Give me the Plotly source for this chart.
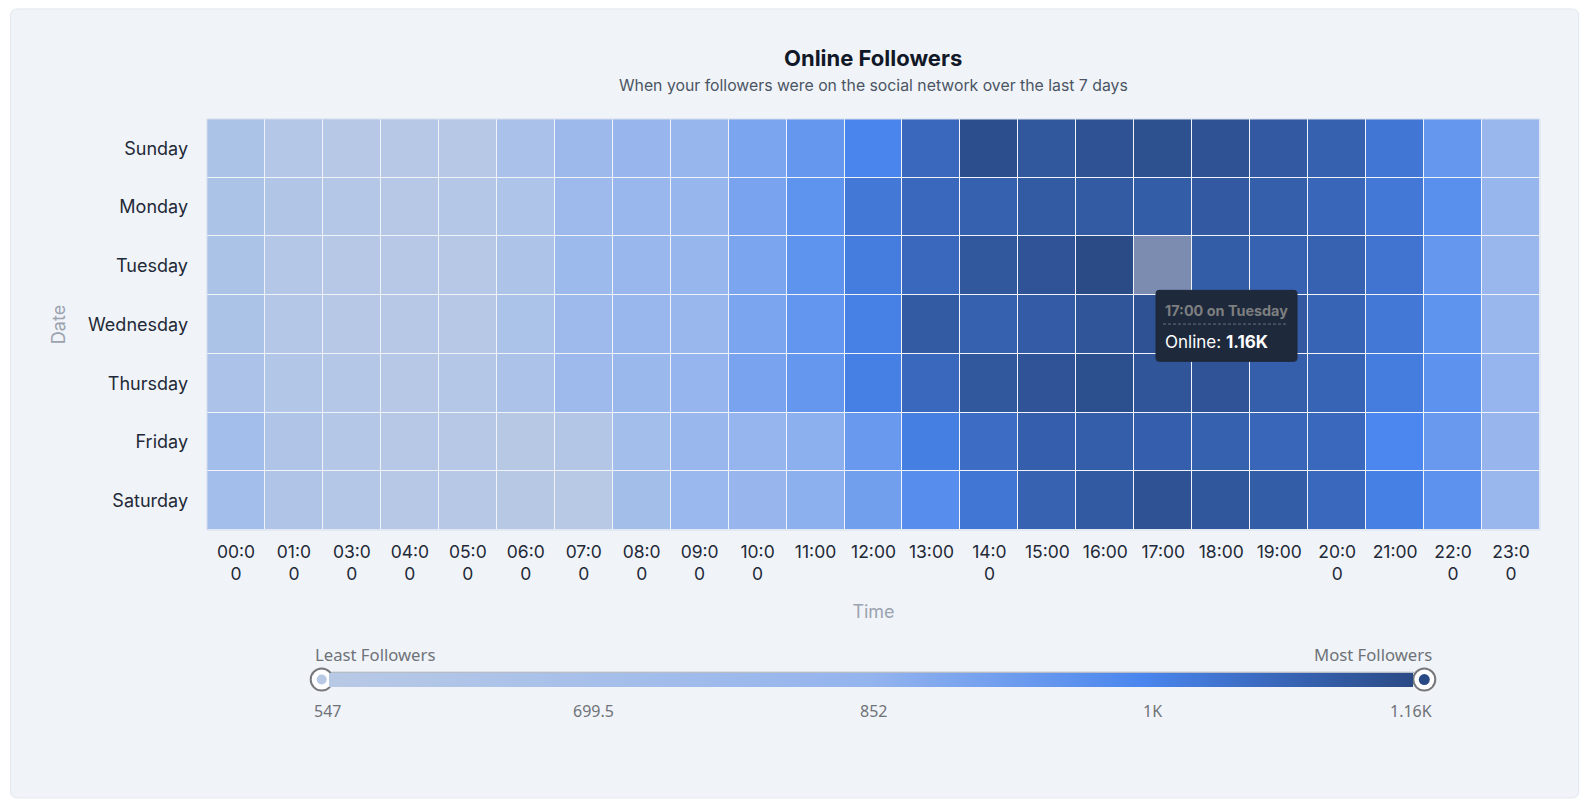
import plotly.graph_objects as go

# values, one list per day
DAYS = ['Sunday', 'Monday', 'Tuesday', 'Wednesday', 'Thursday', 'Friday', 'Saturday']
HOURS = ['00:00', '01:00', '03:00', '04:00', '05:00', '06:00', '07:00', '08:00', '09:00', '10:00', '11:00', '12:00',
         '13:00', '14:00', '15:00', '16:00', '17:00', '18:00', '19:00', '20:00', '21:00', '22:00', '23:00']
HOUR_LABELS = ['00:0<br>0', '01:0<br>0', '03:0<br>0', '04:0<br>0', '05:0<br>0', '06:0<br>0', '07:0<br>0', '08:0<br>0',
               '09:0<br>0', '10:0<br>0', '11:00', '12:00', '13:00', '14:0<br>0', '15:00', '16:00', '17:00', '18:00',
               '19:00', '20:0<br>0', '21:00', '22:0<br>0', '23:0<br>0']

SUNDAY = [645, 570, 565, 560, 565, 665, 780, 820, 830, 905, 950, 1010, 1080, 1150, 1125, 1140, 1145, 1140, 1120, 1100, 1045, 950, 815]
MONDAY = [645, 610, 575, 565, 570, 630, 770, 805, 825, 910, 965, 1040, 1080, 1100, 1115, 1115, 1110, 1120, 1105, 1085, 1040, 975, 825]
TUESDAY = [645, 575, 565, 560, 565, 640, 775, 805, 830, 905, 965, 1030, 1080, 1125, 1135, 1157, 1160, 1110, 1095, 1095, 1050, 950, 815]
WEDNESDAY = [645, 580, 565, 565, 565, 655, 770, 805, 815, 905, 955, 1020, 1115, 1100, 1112, 1132, 1138, 1130, 1120, 1090, 1040, 965, 815]
THURSDAY = [650, 600, 570, 565, 570, 650, 770, 795, 835, 910, 950, 1022, 1080, 1125, 1135, 1148, 1132, 1135, 1105, 1090, 1030, 968, 840]
FRIDAY = [720, 620, 580, 565, 565, 555, 590, 720, 810, 840, 870, 945, 1025, 1070, 1103, 1108, 1103, 1100, 1085, 1080, 1004, 945, 820]
SATURDAY = [720, 620, 570, 565, 560, 555, 547, 715, 800, 820, 870, 925, 980, 1045, 1095, 1118, 1140, 1128, 1110, 1080, 1022, 968, 815]

Z_MIN = 547
Z_MAX = 1160
SLIDER_LABELS = ['547', '699.5', '852', '1K', '1.16K']

COLORSCALE = [[0, '#b8c9e5'], [0.25, '#a6bfea'], [0.5, '#94b4ee'], [0.75, '#4a86ee'], [0.87, '#3a68bc'], [1, '#2a4a85']]

WIDTH = 1584
HEIGHT = 805
PLOT_LEFT = 207
PLOT_RIGHT = 1540
PLOT_TOP = 118.6
PLOT_BOTTOM = 529.7


def px(x):
    return (x - PLOT_LEFT) / (PLOT_RIGHT - PLOT_LEFT)


def py(y):
    return 1 - (y - PLOT_TOP) / (PLOT_BOTTOM - PLOT_TOP)


def rounded_rect(x0, y0, x1, y1, r, fill, line):
    """Rounded box given in page pixels, turned into a paper path."""
    path = (f'M {px(x0 + r)} {py(y0)} L {px(x1 - r)} {py(y0)} Q {px(x1)} {py(y0)} {px(x1)} {py(y0 + r)} '
            f'L {px(x1)} {py(y1 - r)} Q {px(x1)} {py(y1)} {px(x1 - r)} {py(y1)} '
            f'L {px(x0 + r)} {py(y1)} Q {px(x0)} {py(y1)} {px(x0)} {py(y1 - r)} '
            f'L {px(x0)} {py(y0 + r)} Q {px(x0)} {py(y0)} {px(x0 + r)} {py(y0)} Z')
    return dict(type='path', xref='paper', yref='paper', path=path, fillcolor=fill, line=dict(color=line, width=1))


def circle(cx, cy, r, fill, line=None, width=0):
    return dict(type='circle', xref='paper', yref='paper', x0=px(cx - r), x1=px(cx + r), y0=py(cy + r), y1=py(cy - r),
                fillcolor=fill, line=dict(color=line, width=width), layer='above')


def label(text, x, y, size, color, family='Inter', anchor='center'):
    return dict(text=text, xref='paper', yref='paper', x=px(x), y=py(y), xanchor=anchor, yanchor='middle',
                showarrow=False, font=dict(family=family, size=size, color=color))


values = [SUNDAY, MONDAY, TUESDAY, WEDNESDAY, THURSDAY, FRIDAY, SATURDAY]

# the hovered cell shows up paler in the screenshot
hovered = [[None] * len(HOURS) for _ in DAYS]
hovered[DAYS.index('Tuesday')][HOURS.index('17:00')] = values[DAYS.index('Tuesday')][HOURS.index('17:00')]

fig = go.Figure()
fig.add_trace(go.Heatmap(
    z=values, x=HOURS, y=DAYS, zmin=Z_MIN, zmax=Z_MAX, colorscale=COLORSCALE, xgap=1, ygap=1,
    hovertemplate='%{x} on %{y}<br>Online: %{z}<extra></extra>',
    colorbar=dict(
        orientation='h', xref='container', yref='container', x=391 / WIDTH, xanchor='left',
        y=1 - 686.5 / HEIGHT, yanchor='bottom', lenmode='pixels', len=1084, thicknessmode='pixels', thickness=14,
        xpad=0, ypad=0, outlinewidth=0, showticklabels=False, ticks='',
    ),
))
fig.add_trace(go.Heatmap(
    z=hovered, x=HOURS, y=DAYS, colorscale=[[0, '#7b8cb0'], [1, '#7b8cb0']], showscale=False, xgap=1, ygap=1,
    hoverinfo='skip',
))

shapes = [
    dict(rounded_rect(10.5, 8.5, 1578.7, 797.7, 7, '#f0f4f9', '#e2e8f0'), layer='below'),
    dict(type='rect', xref='paper', yref='paper', x0=0, x1=1, y0=0, y1=1, line=dict(color='#d3ddec', width=1),
         layer='above'),
    dict(rounded_rect(1156, 290, 1297, 361, 3, '#1e293b', '#1e293b'), layer='above'),
    dict(type='line', xref='paper', yref='paper', x0=px(1163), x1=px(1288), y0=py(323.7), y1=py(323.7),
         line=dict(color='#6b7280', width=1, dash='3px,2px'), layer='above'),
    dict(type='line', xref='paper', yref='paper', x0=px(332), x1=px(1414), y0=py(672), y1=py(672),
         line=dict(color='rgba(70,80,100,0.45)', width=1), layer='above'),
    circle(321.7, 679.3, 11, '#ffffff', '#76787c', 2),
    circle(321.7, 679.3, 5, '#b8c9e5'),
    circle(1424.3, 679.3, 11, '#ffffff', '#76787c', 2),
    circle(1424.3, 679.3, 5.5, '#2a4a85'),
]

annotations = [
    label('<b>Online Followers</b>', 873, 57.5, 22, '#111827'),
    label('When your followers were on the social network over the last 7 days', 873, 85, 15.8, '#4b5563'),
    label('Least Followers', 313, 654, 16.7, '#6f7277', 'Noto Sans', 'left'),
    label('Most Followers', 1434, 654, 16.7, '#6f7277', 'Noto Sans', 'right'),
    label(SLIDER_LABELS[0], 312, 711, 16, '#6f7277', 'Noto Sans', 'left'),
    label(SLIDER_LABELS[1], 593, 711, 16, '#6f7277', 'Noto Sans'),
    label(SLIDER_LABELS[2], 873, 711, 16, '#6f7277', 'Noto Sans'),
    label(SLIDER_LABELS[3], 1152, 711, 16, '#6f7277', 'Noto Sans'),
    label(SLIDER_LABELS[4], 1434, 711, 16, '#6f7277', 'Noto Sans', 'right'),
    label('<b>17:00 on Tuesday</b>', 1163, 310, 14.4, '#7d7f80', anchor='left'),
    label('Online: <b>1.16K</b>', 1163, 342, 17, '#ffffff', anchor='left'),
]

fig.update_layout(
    width=WIDTH, height=HEIGHT, paper_bgcolor='#ffffff', plot_bgcolor='#d9e2f0',
    margin=dict(l=PLOT_LEFT, r=WIDTH - PLOT_RIGHT, t=PLOT_TOP, b=HEIGHT - PLOT_BOTTOM, autoexpand=False),
    font=dict(family='Inter'), shapes=shapes, annotations=annotations,
)
fig.update_xaxes(
    type='category', tickmode='array', tickvals=HOURS, ticktext=HOUR_LABELS, showgrid=False, zeroline=False,
    ticks='', ticklabelstandoff=9, tickangle=0, tickfont=dict(size=17.5, color='#1f2937'),
    title=dict(text='Time', standoff=22, font=dict(size=18, color='#9ca3af')),
)
fig.update_yaxes(
    type='category', autorange='reversed', showgrid=False, zeroline=False, ticks='', ticklabelstandoff=18,
    tickfont=dict(size=18, color='#1f2937'),
    title=dict(text='Date', standoff=17, font=dict(size=18, color='#9ca3af')),
)

fig.write_html("out.html", config={'displayModeBar': False},
               post_script="document.body.style.margin='0';document.body.style.overflow='hidden';")
